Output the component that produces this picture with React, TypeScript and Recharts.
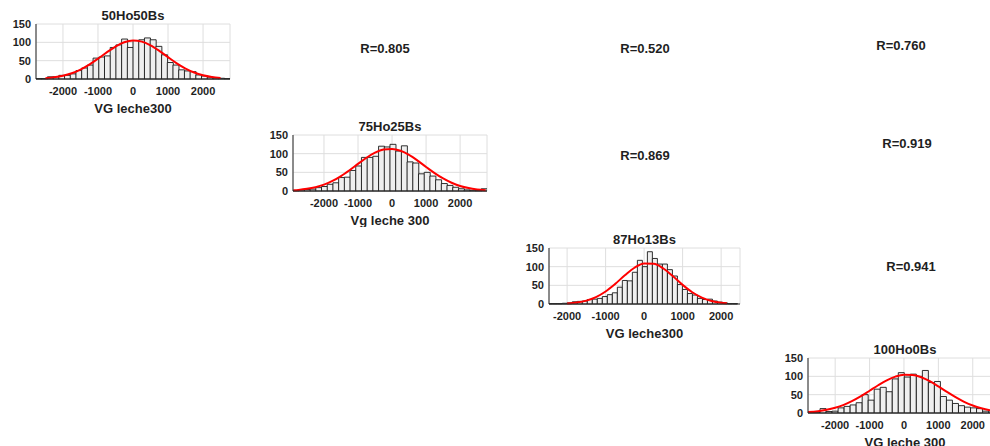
import React from 'react';
import { ComposedChart, Bar, Line, XAxis, YAxis, CartesianGrid, Label } from 'recharts';

// ---------- text ----------
const titles = ['50Ho50Bs', '75Ho25Bs', '87Ho13Bs', '100Ho0Bs'];
const xLabels = ['VG leche300', 'Vg leche 300', 'VG leche300', 'VG leche 300'];
const rLabels = ['R=0.805', 'R=0.520', 'R=0.760', 'R=0.869', 'R=0.919', 'R=0.941'];
const xTicks = [-2000, -1000, 0, 1000, 2000];
const yTicks = [0, 50, 100, 150];
const minorXTicks = [-2750, -2500, -2250, -2000, -1750, -1500, -1250, -1000, -750, -500, -250, 0, 250, 500, 750, 1000, 1250, 1500, 1750, 2000, 2250, 2500, 2750];

// ---------- histogram bins (start edge, bin width, counts) ----------
const hist1Start = -2770;
const hist1Width = 163;
const hist1Counts = [1, 1, 6, 6, 10, 10, 14, 23, 30, 38, 57, 60, 63, 86, 93, 109, 86, 105, 107, 112, 107, 89, 66, 45, 38, 25, 22, 20, 11, 8, 5, 3, 2, 1];

const hist2Start = -2910;
const hist2Width = 167.6;
const hist2Counts = [1, 3, 4, 5, 9, 12, 18, 22, 36, 37, 55, 67, 90, 90, 93, 120, 118, 125, 107, 121, 78, 75, 46, 50, 40, 30, 20, 15, 10, 6, 3, 2, 1, 6];

const hist3Start = -2515;
const hist3Width = 130;
const hist3Counts = [1, 1, 1, 2, 3, 6, 7, 8, 12, 13, 15, 20, 25, 30, 45, 63, 62, 85, 117, 100, 140, 122, 107, 107, 92, 75, 52, 39, 28, 24, 15, 12, 13, 8, 5, 3, 1, 1];

const hist4Start = -2790;
const hist4Width = 175;
const hist4Counts = [2, 2, 12, 4, 5, 14, 18, 22, 28, 50, 35, 65, 70, 58, 93, 110, 98, 106, 100, 116, 83, 86, 45, 35, 26, 20, 16, 14, 12, 5, 3, 2, 1];

// ---------- fitted curves ----------
const curve1X = [-2500, -2250, -2000, -1750, -1500, -1250, -1000, -750, -500, -250, 0, 250, 500, 750, 1000, 1250, 1500, 1750, 2000, 2250, 2500];
const curve1Y = [2.2, 4.5, 8.7, 15.5, 25.5, 39.0, 55.3, 72.7, 88.6, 100.1, 104.9, 102.0, 91.9, 76.8, 59.5, 42.7, 28.5, 17.6, 10.1, 5.4, 2.6];

const curve2X = [-2900, -2750, -2500, -2250, -2000, -1750, -1500, -1250, -1000, -750, -500, -250, 0, 250, 500, 750, 1000, 1250, 1500, 1750, 2000, 2250, 2500, 2750];
const curve2Y = [2.0, 3.0, 5.8, 10.3, 17.2, 27.1, 40.1, 55.7, 72.6, 89.1, 102.6, 111.0, 112.8, 107.7, 96.6, 81.4, 64.4, 47.9, 33.5, 22.0, 13.5, 7.8, 4.3, 2.2];

const curve3X = [-2000, -1750, -1500, -1250, -1000, -750, -500, -250, 0, 250, 500, 750, 1000, 1250, 1500, 1750, 2000, 2150];
const curve3Y = [1.5, 3.9, 9.0, 18.5, 33.5, 53.9, 76.8, 97.1, 108.7, 107.9, 95.0, 74.1, 51.2, 31.4, 17.1, 8.2, 3.5, 2.0];

const curve4X = [-2790, -2500, -2250, -2000, -1750, -1500, -1250, -1000, -750, -500, -250, 0, 250, 500, 750, 1000, 1250, 1500, 1750, 2000, 2250, 2500, 2750];
const curve4Y = [2.4, 4.9, 8.6, 14.2, 22.2, 32.9, 45.9, 60.7, 75.7, 89.2, 99.3, 104.5, 103.9, 97.6, 86.7, 72.7, 57.6, 43.2, 30.5, 20.4, 12.9, 7.7, 4.3];

// ---------- axis ranges ----------
const xDomains: [number, number][] = [[-2770, 2770], [-2910, 2790], [-2470, 2490], [-2790, 2850]];

// ---------- build tables ----------
const toBins = (start: number, width: number, counts: number[]) =>
  counts.map((n, i) => ({ x: start + width * (i + 0.5), n }));
const toCurve = (xs: number[], ys: number[]) => xs.map((x, i) => ({ x, y: ys[i] }));

const panels = [
  { bins: toBins(hist1Start, hist1Width, hist1Counts), curve: toCurve(curve1X, curve1Y) },
  { bins: toBins(hist2Start, hist2Width, hist2Counts), curve: toCurve(curve2X, curve2Y) },
  { bins: toBins(hist3Start, hist3Width, hist3Counts), curve: toCurve(curve3X, curve3Y) },
  { bins: toBins(hist4Start, hist4Width, hist4Counts), curve: toCurve(curve4X, curve4Y) },
];

// ---------- layout ----------
const frames = [
  { x: 36, y: 24, w: 194, h: 55 },
  { x: 293, y: 135, w: 194, h: 56 },
  { x: 549, y: 248, w: 191, h: 56 },
  { x: 808, y: 358, w: 194, h: 55 },
];
const rPos = [
  { x: 385, y: 48 },
  { x: 645, y: 48 },
  { x: 901, y: 45 },
  { x: 645, y: 155 },
  { x: 907, y: 143 },
  { x: 911, y: 266 },
];

const FONT = '"Liberation Sans", Arial, Helvetica, sans-serif';
const TXT = '#1f1f1f';
const AXC = '#262626';

function Panel({ idx }: { idx: number }) {
  const f = frames[idx];
  const PL = 40, PT = 10, PR = 4, AXH = 34;
  const w = f.w + PL + PR;
  const h = f.h + PT + AXH + 2;
  const dom = xDomains[idx];
  const tickStyle = { fontSize: 11, fontWeight: 700, fill: TXT, fontFamily: FONT };
  return (
    <div style={{ position: 'absolute', left: f.x - PL, top: f.y - PT }}>
      <ComposedChart
        width={w}
        height={h}
        data={panels[idx].bins}
        margin={{ top: PT, right: PR, bottom: 2, left: 0 }}
        barCategoryGap={0}
        barGap={0}
      >
        <CartesianGrid xAxisId="b" stroke="#dedede" strokeWidth={1} />
        <XAxis
          xAxisId="b"
          type="number"
          dataKey="x"
          domain={dom}
          allowDataOverflow
          ticks={xTicks}
          interval={0}
          height={AXH}
          tickLine={false}
          tickSize={4}
          tickMargin={4}
          tick={tickStyle}
          axisLine={{ stroke: AXC, strokeWidth: 1 }}
        >
          <Label
            value={xLabels[idx]}
            position="insideBottom"
            offset={0}
            style={{ fontSize: 13, fontWeight: 700, fill: TXT, fontFamily: FONT }}
          />
        </XAxis>
        <XAxis xAxisId="c" type="number" dataKey="x" domain={dom} allowDataOverflow hide />
        <XAxis
          xAxisId="t"
          orientation="top"
          type="number"
          domain={dom}
          allowDataOverflow
          ticks={minorXTicks}
          interval={0}
          height={0}
          mirror
          tick={false}
          tickSize={2}
          tickLine={{ stroke: AXC }}
          axisLine={{ stroke: AXC, strokeWidth: 1 }}
        />
        <YAxis
          type="number"
          domain={[0, 150]}
          ticks={yTicks}
          interval={0}
          width={PL}
          tickLine={false}
          tickSize={3}
          tickMargin={2}
          tick={tickStyle}
          axisLine={{ stroke: AXC, strokeWidth: 1 }}
        />
        <YAxis
          yAxisId="r"
          orientation="right"
          type="number"
          domain={[0, 150]}
          width={0}
          tick={false}
          tickLine={false}
          axisLine={{ stroke: AXC, strokeWidth: 1 }}
        />
        <Bar
          xAxisId="b"
          dataKey="n"
          fill="#efefef"
          stroke="#1a1a1a"
          strokeWidth={0.9}
          isAnimationActive={false}
        />
        <Line
          xAxisId="c"
          data={panels[idx].curve}
          dataKey="y"
          type="monotone"
          stroke="#ff0000"
          strokeWidth={2}
          dot={false}
          activeDot={false}
          isAnimationActive={false}
        />
      </ComposedChart>
    </div>
  );
}

function CenteredText({ x, y, text, size }: { x: number; y: number; text: string; size: number }) {
  return (
    <div
      style={{
        position: 'absolute',
        left: x,
        top: y,
        transform: 'translate(-50%, -50%)',
        fontFamily: FONT,
        fontWeight: 700,
        fontSize: size,
        lineHeight: 1,
        color: TXT,
        whiteSpace: 'nowrap',
      }}
    >
      {text}
    </div>
  );
}

export default function App() {
  return (
    <div
      style={{
        position: 'absolute',
        left: 0,
        top: 0,
        width: 990,
        height: 446,
        overflow: 'hidden',
        background: '#ffffff',
        fontFamily: FONT,
      }}
    >
      {frames.map((_, i) => (
        <Panel key={i} idx={i} />
      ))}
      {frames.map((f, i) => (
        <CenteredText key={'t' + i} x={f.x + f.w / 2} y={f.y - 9} text={titles[i]} size={13} />
      ))}
      {rLabels.map((r, i) => (
        <CenteredText key={'r' + i} x={rPos[i].x} y={rPos[i].y} text={r} size={13} />
      ))}
    </div>
  );
}
